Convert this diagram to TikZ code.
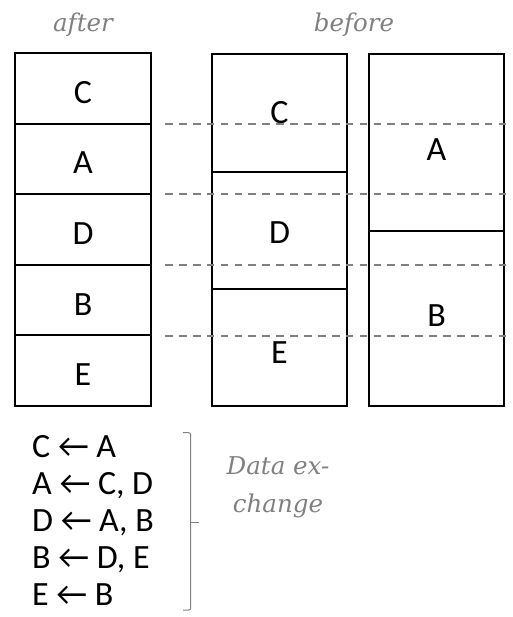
\documentclass[tikz,border=0pt]{standalone}
\usepackage{fontspec}
\setmainfont{Carlito}
\newfontfamily\capfont{DejaVu Serif}
\definecolor{lbl}{RGB}{128,128,128}
\begin{document}
\begin{tikzpicture}[x=1pt,y=-1pt,
  cell/.style={draw=black, line width=2pt, inner sep=0pt},
  letter/.style={font=\fontsize{34}{40}\selectfont, inner sep=0pt},
  listline/.style={font=\fontsize{34}{40}\selectfont, inner sep=0pt, anchor=base west},
  caption/.style={font=\capfont\itshape\fontsize{24.5}{38}\selectfont, text=lbl, inner sep=0pt},
  guide/.style={draw=lbl, line width=2pt, dash pattern=on 7.7pt off 6.2pt},
  bracket/.style={draw=lbl, line width=1pt, rounded corners=2pt}]
\useasboundingbox (0,0) rectangle (512,617);

% captions
\node[caption, anchor=base] (after) at (83,32) {after};
\node[caption, anchor=base] (before) at (354,32) {before};

% after column
\node[cell, minimum width=136pt, minimum height=70.6pt] (r1) at (83,88.3) {};
\node[cell, minimum width=136pt, minimum height=70.6pt] (r2) at (83,158.9) {};
\node[cell, minimum width=136pt, minimum height=70.6pt] (r3) at (83,229.5) {};
\node[cell, minimum width=136pt, minimum height=70.6pt] (r4) at (83,300.1) {};
\node[cell, minimum width=136pt, minimum height=70.6pt] (r5) at (83,370.7) {};
\node[letter] (tC) at (83,92.5) {C};
\node[letter] (tA) at (83,163) {A};
\node[letter] (tD) at (83,233.5) {D};
\node[letter] (tB) at (83,304.5) {B};
\node[letter] (tE) at (83,375) {E};

% before, first column
\node[cell, minimum width=135pt, minimum height=117.5pt] (m1) at (279.5,113.25) {};
\node[cell, minimum width=135pt, minimum height=117pt] (m2) at (279.5,230.5) {};
\node[cell, minimum width=135pt, minimum height=117pt] (m3) at (279.5,347.5) {};
\node[letter] (mC) at (279.5,113) {C};
\node[letter] (mD) at (279.5,232.7) {D};
\node[letter] (mE) at (279.5,353) {E};

% before, second column
\node[cell, minimum width=135pt, minimum height=176.5pt] (n1) at (436.5,142.75) {};
\node[cell, minimum width=135pt, minimum height=175pt] (n2) at (436.5,318.5) {};
\node[letter] (nA) at (436.5,149.3) {A};
\node[letter] (nB) at (436.5,316) {B};

% dashed guides
\foreach \i/\y in {1/124,2/194.5,3/265,4/335.5}{
  \coordinate (gl\i) at (165,\y);
  \coordinate (gr\i) at (512,\y);
  \draw[guide] (gl\i) -- (gr\i);
}

% exchange list
\node[listline] (x1) at (32,457.7) {C ← A};
\node[listline] (x2) at (32,494.7) {A ← C, D};
\node[listline] (x3) at (32,531.7) {D ← A, B};
\node[listline] (x4) at (32,568.7) {B ← D, E};
\node[listline] (x5) at (32,605.7) {E ← B};

% bracket
\coordinate (bt) at (183,432.7);
\coordinate (bb) at (183,610);
\coordinate (bm) at (199,522);
\draw[bracket] (bt) -- (190.7,432.7) -- (190.7,610) -- (bb);
\draw[draw=lbl, line width=1pt] (190.7,522) -- (bm);

\node[caption, align=center, anchor=base] (dx) at (278,512) {Data ex-\\change};
\end{tikzpicture}
\end{document}
